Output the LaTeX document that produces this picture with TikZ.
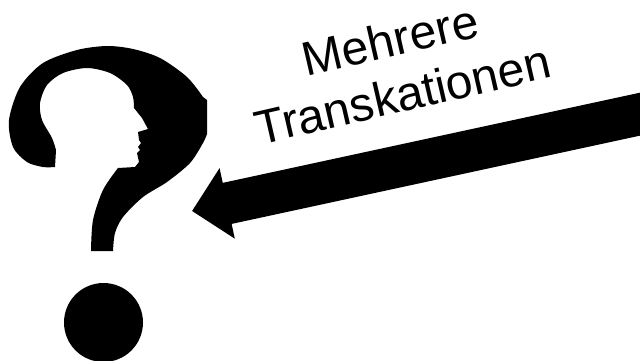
\documentclass[tikz,border=0pt]{standalone}
\usepackage{fontspec}
\setmainfont{Liberation Sans}
\usetikzlibrary{arrows.meta}

\begin{document}
\begin{tikzpicture}
  [x=1pt,y=-1pt,
   label/.style={rotate=13,align=center,font=\fontsize{48}{56}\selectfont},
   dot/.style={circle,fill=black,inner sep=0pt,minimum size=79pt},
   bigarrow/.style={line width=42pt,-{Triangle[length=36pt,width=70pt]}}]
  \useasboundingbox (0,0) rectangle (640,361);
  \clip (0,0) rectangle (640,361);

  % question mark with the head cut out
  \fill[black] plot[smooth] coordinates {(113,251) (115,233) (123,217) (143,197) (167,182) (190,163) (203,143) (207,134)}
    -- (207,100)
    -- plot[smooth] coordinates {(203,97) (187,77) (160,58) (133,49) (107,46) (77,50) (43,63) (20,87) (9,120) (13,147) (27,162) (43,167) (55,167)}
    -- plot[smooth] coordinates {(56,150) (52,138) (42,120) (40,103) (47,85) (63,73) (87,68) (110,73) (127,85) (133,97) (134,108)}
    -- (142,118) -- (148,129) -- (138,132) -- (139,140) -- (141,143) -- (138,147) -- (140,150) -- (137,153) -- (139,162) -- (135,167) -- (118,168)
    -- plot[smooth] coordinates {(118,168) (103,190) (93,220) (91,251)}
    -- cycle;

  \node[dot] (point) at (103.5,322.5) {};
  \node[label] (text) at (396.5,67) {Mehrere\\Transkationen};

  \coordinate (tail) at (650,112);
  \coordinate (tip) at (192,211);
  \draw[bigarrow] (tail) -- (tip);
\end{tikzpicture}
\end{document}
